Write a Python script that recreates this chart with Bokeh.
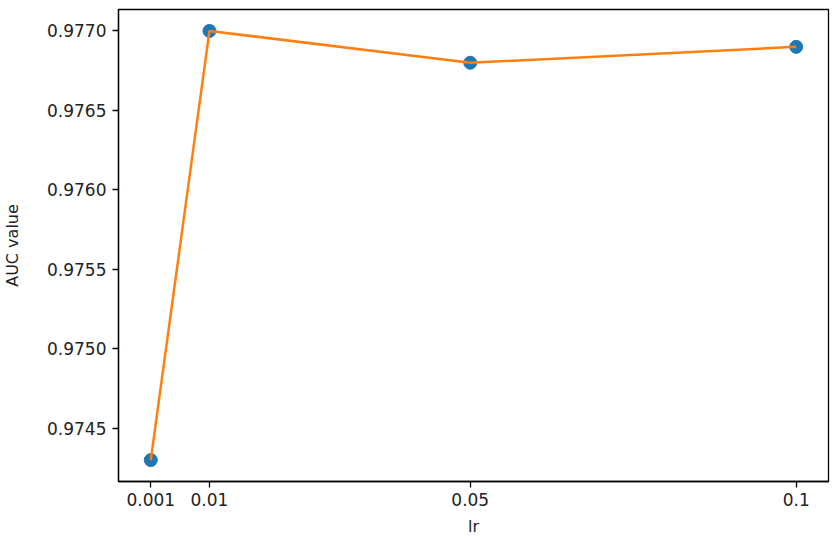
from bokeh.plotting import figure
from bokeh.models import FixedTicker, Range1d, PrintfTickFormatter
from bokeh.embed import file_html
from bokeh.resources import INLINE

lr = [0.001, 0.01, 0.05, 0.1]
auc = [0.9743, 0.9770, 0.9768, 0.9769]
x_ticks = [0.001, 0.01, 0.05, 0.1]
x_tick_labels = {0.001: "0.001", 0.01: "0.01", 0.05: "0.05", 0.1: "0.1"}
y_ticks = [0.9745, 0.9750, 0.9755, 0.9760, 0.9765, 0.9770]

xpad = (max(lr) - min(lr)) * 0.05
ypad = (max(auc) - min(auc)) * 0.05

p = figure(width=839, height=539, output_backend="svg", toolbar_location=None,
           x_range=Range1d(min(lr) - xpad, max(lr) + xpad),
           y_range=Range1d(min(auc) - ypad, max(auc) + ypad),
           min_border_left=117, min_border_right=11, min_border_top=9, min_border_bottom=58)

p.scatter(lr, auc, size=13, color="#1f77b4")
p.line(lr, auc, line_color="#ff7f0e", line_width=2.5)

p.grid.visible = False
p.outline_line_color = "black"
p.outline_line_width = 1.3

p.xaxis.ticker = FixedTicker(ticks=x_ticks)
p.xaxis.major_label_overrides = x_tick_labels
p.yaxis.ticker = FixedTicker(ticks=y_ticks)
p.yaxis.formatter = PrintfTickFormatter(format="%.4f")

for ax in (p.xaxis[0], p.yaxis[0]):
    ax.axis_line_color = "black"
    ax.axis_line_width = 1.3
    ax.major_tick_line_color = "black"
    ax.major_tick_line_width = 1.3
    ax.major_tick_in = 0
    ax.major_tick_out = 6
    ax.minor_tick_line_color = None
    ax.major_label_text_font = "DejaVu Sans"
    ax.major_label_text_font_size = "17px"
    ax.major_label_text_color = "#222222"
    ax.axis_label_text_font = "DejaVu Sans"
    ax.axis_label_text_font_size = "16px"
    ax.axis_label_text_font_style = "normal"
    ax.axis_label_text_color = "#222222"

p.xaxis.axis_label = "lr"
p.yaxis.axis_label = "AUC value"
p.xaxis.major_label_standoff = 5
p.yaxis.major_label_standoff = 6
p.xaxis.axis_label_standoff = 8
p.yaxis.axis_label_standoff = 22

open("out.html", "w").write(file_html(p, INLINE))
